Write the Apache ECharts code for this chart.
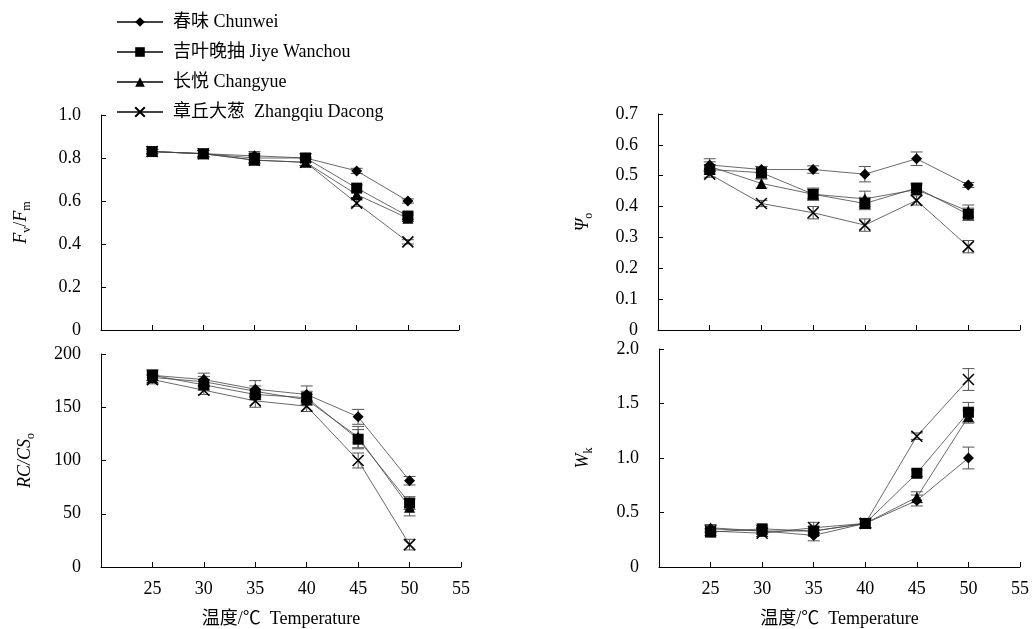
<!DOCTYPE html>
<html>
<head>
<meta charset="utf-8">
<script src="https://cdn.jsdelivr.net/npm/echarts@6/dist/echarts.min.js"></script>
<style>html,body{margin:0;padding:0;background:#fff;}#c{width:1032px;height:629px;}</style>
</head>
<body>
<div id="c"></div>
<script>
// ---------- data ----------
const temps = [25, 30, 35, 40, 45, 50];
const seriesNames = ['春味 Chunwei', '吉叶晚抽 Jiye Wanchou', '长悦 Changyue', '章丘大葱  Zhangqiu Dacong'];

// Fv/Fm
const fvfmChunwei   = [0.83, 0.82, 0.81, 0.80, 0.74, 0.60];
const fvfmJiye      = [0.83, 0.82, 0.80, 0.80, 0.66, 0.53];
const fvfmChangyue  = [0.83, 0.82, 0.79, 0.78, 0.63, 0.52];
const fvfmZhangqiu  = [0.83, 0.82, 0.79, 0.78, 0.59, 0.41];
const fvfmErrChunwei  = [0.010, 0.015, 0.020, 0.020, 0.012, 0.010];
const fvfmErrJiye     = [0.010, 0.015, 0.020, 0.020, 0.015, 0.015];
const fvfmErrChangyue = [0.010, 0.015, 0.015, 0.015, 0.015, 0.015];
const fvfmErrZhangqiu = [0.010, 0.015, 0.015, 0.015, 0.015, 0.010];

// Psi_o
const psiChunwei   = [0.535, 0.52, 0.52, 0.505, 0.555, 0.47];
const psiJiye      = [0.52, 0.51, 0.44, 0.41, 0.46, 0.375];
const psiChangyue  = [0.53, 0.475, 0.44, 0.425, 0.455, 0.385];
const psiZhangqiu  = [0.505, 0.41, 0.38, 0.34, 0.42, 0.27];
const psiErrChunwei  = [0.020, 0.010, 0.012, 0.025, 0.022, 0.008];
const psiErrJiye     = [0.015, 0.020, 0.020, 0.020, 0.015, 0.020];
const psiErrChangyue = [0.015, 0.015, 0.015, 0.025, 0.015, 0.020];
const psiErrZhangqiu = [0.010, 0.010, 0.020, 0.020, 0.015, 0.020];

// RC/CSo
const rcChunwei   = [180, 176, 167, 162, 141, 81];
const rcJiye      = [180, 171, 162, 159, 120, 60];
const rcChangyue  = [178, 174, 165, 157, 122, 56];
const rcZhangqiu  = [176, 166, 156, 151, 100, 21];
const rcErrChunwei  = [5, 6, 8, 8, 7, 4];
const rcErrJiye     = [5, 5, 5, 6, 9, 6];
const rcErrChangyue = [5, 5, 5, 5, 10, 8];
const rcErrZhangqiu = [4, 4, 6, 5, 7, 5];

// Wk
const wkChunwei   = [0.35, 0.33, 0.29, 0.40, 0.61, 1.00];
const wkJiye      = [0.32, 0.35, 0.33, 0.40, 0.86, 1.42];
const wkChangyue  = [0.36, 0.33, 0.33, 0.40, 0.64, 1.38];
const wkZhangqiu  = [0.33, 0.31, 0.36, 0.40, 1.20, 1.72];
const wkErrChunwei  = [0.03, 0.03, 0.05, 0.04, 0.05, 0.10];
const wkErrJiye     = [0.03, 0.03, 0.04, 0.04, 0.03, 0.09];
const wkErrChangyue = [0.03, 0.03, 0.04, 0.04, 0.05, 0.06];
const wkErrZhangqiu = [0.02, 0.03, 0.05, 0.04, 0.03, 0.10];

// ---------- styling ----------
const FONT = "'Liberation Serif', 'Times New Roman', 'Noto Sans CJK SC', serif";
const symbols = ['diamond', 'rect', 'triangle', 'path://M0,0L10,10M10,0L0,10'];
const symbolSizes = [11, 11, 11, 11];

const panels = [
  { vals: [fvfmChunwei, fvfmJiye, fvfmChangyue, fvfmZhangqiu], errs: [fvfmErrChunwei, fvfmErrJiye, fvfmErrChangyue, fvfmErrZhangqiu] },
  { vals: [psiChunwei, psiJiye, psiChangyue, psiZhangqiu], errs: [psiErrChunwei, psiErrJiye, psiErrChangyue, psiErrZhangqiu] },
  { vals: [rcChunwei, rcJiye, rcChangyue, rcZhangqiu], errs: [rcErrChunwei, rcErrJiye, rcErrChangyue, rcErrZhangqiu] },
  { vals: [wkChunwei, wkJiye, wkChangyue, wkZhangqiu], errs: [wkErrChunwei, wkErrJiye, wkErrChangyue, wkErrZhangqiu] }
];

const grids = [
  { left: 101, top: 115, width: 358, height: 215 },
  { left: 658, top: 114, width: 362, height: 216 },
  { left: 101, top: 354, width: 360, height: 213 },
  { left: 659, top: 349, width: 361, height: 218 }
];

const richName = {
  i: { fontFamily: FONT, fontStyle: 'italic', fontSize: 18, lineHeight: 24, color: '#000' },
  n: { fontFamily: FONT, fontSize: 18, lineHeight: 24, color: '#000' },
  s: { fontFamily: FONT, fontSize: 12, lineHeight: 12, verticalAlign: 'bottom', color: '#000' }
};

function xAxis(idx, showLabels) {
  return {
    type: 'value', gridIndex: idx, min: 20, max: 55, interval: 5,
    axisLine: { lineStyle: { color: '#000', width: 1 } },
    axisTick: { inside: true, length: 5, lineStyle: { color: '#000' } },
    splitLine: { show: false },
    axisLabel: {
      show: showLabels, margin: 13, fontFamily: FONT, fontSize: 18, color: '#000',
      formatter: v => (v === 20 ? '' : String(v))
    },
    name: showLabels ? '温度/℃  Temperature' : '',
    nameLocation: 'middle', nameGap: 43,
    nameTextStyle: { fontFamily: FONT, fontSize: 18, color: '#000' }
  };
}
function yAxis(idx, max, interval, fmt, name, gap) {
  return {
    type: 'value', gridIndex: idx, min: 0, max: max, interval: interval,
    axisLine: { show: true, lineStyle: { color: '#000', width: 1 } },
    axisTick: { show: true, inside: true, length: 5, lineStyle: { color: '#000' } },
    splitLine: { show: false },
    axisLabel: { margin: 20, fontFamily: FONT, fontSize: 18, color: '#000', formatter: fmt },
    name: name, nameLocation: 'middle', nameRotate: 90, nameGap: gap,
    nameTextStyle: { rich: richName, fontFamily: FONT, fontSize: 18, color: '#000' }
  };
}
const fmt1 = v => (v === 0 ? '0' : v.toFixed(1));
const fmt0 = v => String(v);

function renderErr(params, api) {
  const x = api.value(0), y = api.value(1), e = api.value(2);
  const top = api.coord([x, y + e]);
  const bot = api.coord([x, y - e]);
  const hw = 6;
  const st = { stroke: '#555', lineWidth: 1 };
  return {
    type: 'group',
    children: [
      { type: 'line', shape: { x1: top[0], y1: top[1], x2: bot[0], y2: bot[1] }, style: st },
      { type: 'line', shape: { x1: top[0] - hw, y1: top[1], x2: top[0] + hw, y2: top[1] }, style: st },
      { type: 'line', shape: { x1: bot[0] - hw, y1: bot[1], x2: bot[0] + hw, y2: bot[1] }, style: st }
    ]
  };
}

const series = [];
panels.forEach((p, pi) => {
  p.vals.forEach((vals, si) => {
    series.push({
      type: 'custom', xAxisIndex: pi, yAxisIndex: pi, z: 1, silent: true,
      renderItem: renderErr, encode: { x: 0, y: 1 },
      data: temps.map((t, k) => [t, vals[k], p.errs[si][k]])
    });
  });
  p.vals.forEach((vals, si) => {
    series.push({
      type: 'line', name: seriesNames[si], xAxisIndex: pi, yAxisIndex: pi, z: 3,
      data: temps.map((t, k) => [t, vals[k]]),
      symbol: symbols[si], symbolSize: symbolSizes[si], showSymbol: true,
      lineStyle: { color: '#444', width: 0.8 },
      itemStyle: { color: '#000', borderColor: '#000', borderWidth: si === 3 ? 1.6 : 0 },
      animation: false
    });
  });
});

const chart = echarts.init(document.getElementById('c'), null, { renderer: 'canvas' });
chart.setOption({
  backgroundColor: '#fff',
  animation: false,
  legend: {
    data: seriesNames, orient: 'vertical', left: 111, top: 8,
    itemWidth: 46, itemHeight: 12, itemGap: 12,
    textStyle: { fontFamily: FONT, fontSize: 18, color: '#000', padding: [0, 0, 0, 5] }
  },
  grid: grids,
  xAxis: [xAxis(0, false), xAxis(1, false), xAxis(2, true), xAxis(3, true)],
  yAxis: [
    yAxis(0, 1.0, 0.2, fmt1, '{i|F}{s|v}{n|/}{i|F}{s|m}', 68),
    yAxis(1, 0.7, 0.1, fmt1, '{i|Ψ}{s|o}', 63),
    yAxis(2, 200, 50, fmt0, '{i|RC/CS}{s|o}', 64),
    yAxis(3, 2.0, 0.5, fmt1, '{i|W}{s|k}', 64)
  ],
  series: series
});
</script>
</body>
</html>
